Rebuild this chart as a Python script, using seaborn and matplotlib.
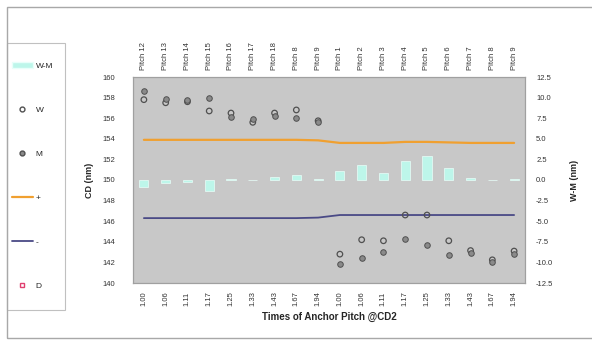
import matplotlib
matplotlib.use("Agg")
import matplotlib.pyplot as plt
from matplotlib.lines import Line2D
from matplotlib.patches import Patch, Rectangle
import numpy as np
import pandas as pd
import seaborn as sns

# ---- data -------------------------------------------------------------
pitch_labels = ["Pitch 12", "Pitch 13", "Pitch 14", "Pitch 15", "Pitch 16",
                "Pitch 17", "Pitch 18", "Pitch 8", "Pitch 9", "Pitch 1",
                "Pitch 2", "Pitch 3", "Pitch 4", "Pitch 5", "Pitch 6",
                "Pitch 7", "Pitch 8", "Pitch 9"]
time_labels = ["1.00", "1.06", "1.11", "1.17", "1.25", "1.33", "1.43", "1.67",
               "1.94", "1.00", "1.06", "1.11", "1.17", "1.25", "1.33", "1.43",
               "1.67", "1.94"]
w_cd = [157.8, 157.5, 157.6, 156.7, 156.5, 155.6, 156.5, 156.8, 155.75,
        142.8, 144.2, 144.1, 146.6, 146.6, 144.1, 143.15, 142.25, 143.1]
m_cd = [158.6, 157.9, 157.8, 158.0, 156.1, 155.9, 156.2, 156.0, 155.65,
        141.8, 142.4, 143.0, 144.3, 143.7, 142.7, 142.95, 142.05, 142.85]
w_minus_m = [-0.8, -0.4, -0.2, -1.3, 0.1, 0.05, 0.4, 0.6, 0.1,
             1.1, 1.8, 0.9, 2.3, 2.9, 1.4, 0.3, 0.05, 0.1]
upper_limit = [153.9, 153.9, 153.9, 153.9, 153.9, 153.9, 153.9, 153.9, 153.85,
               153.6, 153.6, 153.6, 153.7, 153.7, 153.65, 153.6, 153.6, 153.6]
lower_limit = [146.3, 146.3, 146.3, 146.3, 146.3, 146.3, 146.3, 146.3, 146.35,
               146.6, 146.6, 146.6, 146.6, 146.6, 146.6, 146.6, 146.6, 146.6]

df = pd.DataFrame({
    "pos": np.arange(len(time_labels)),
    "W": w_cd, "M": m_cd, "WM": w_minus_m,
    "upper": upper_limit, "lower": lower_limit,
})

# ---- style ------------------------------------------------------------
sns.set_theme(style="white")
plt.rcParams["font.family"] = ["Liberation Sans", "DejaVu Sans"]

bg = "#c8c8c8"
bar_color = "#bdf6ea"
orange = "#f0a030"
navy = "#4a4a86"
pt_edge = "#505050"

fig = plt.figure(figsize=(5.92, 3.44), dpi=100)
fig.patch.set_facecolor("white")

W, H = 592, 344
left, right, top, bottom = 133, 525, 77, 283
ax_wm = fig.add_axes([left / W, 1 - bottom / H, (right - left) / W, (bottom - top) / H])
ax_wm.set_facecolor(bg)

# W-M bars (right-hand scale)
sns.barplot(data=df, x="pos", y="WM", color=bar_color, width=0.42,
            edgecolor="#e8fffa", linewidth=0.5, ax=ax_wm, saturation=1)
ax_wm.set_ylim(-12.5, 12.5)
ax_wm.set_xlim(-0.5, len(time_labels) - 0.5)
ax_wm.set_xticks(df["pos"])
ax_wm.set_xticklabels(time_labels, rotation=90, fontsize=5.5)
ax_wm.set_xlabel("Times of Anchor Pitch @CD2", fontsize=7, fontweight="bold", labelpad=4)

# CD series (left-hand scale), drawn above the bars
ax_cd = ax_wm.twinx()
ax_cd.yaxis.tick_left()
ax_cd.yaxis.set_label_position("left")
ax_wm.yaxis.tick_right()
ax_wm.yaxis.set_label_position("right")
wm_ticks = np.arange(-12.5, 12.51, 2.5)
ax_wm.set_yticks(wm_ticks)
ax_wm.set_yticklabels([f"{v:.1f}" for v in wm_ticks])
ax_wm.set_ylabel("W-M (nm)", fontsize=6.5, fontweight="bold", labelpad=12)

sns.lineplot(data=df, x="pos", y="upper", color=orange, linewidth=1.6, ax=ax_cd)
sns.lineplot(data=df, x="pos", y="lower", color=navy, linewidth=1.3, ax=ax_cd)
sns.scatterplot(data=df, x="pos", y="W", marker="o", s=16, facecolor="none",
                edgecolor=pt_edge, linewidth=0.9, ax=ax_cd, zorder=5)
sns.scatterplot(data=df, x="pos", y="M", marker="o", s=16, color="#8a8a8a",
                edgecolor=pt_edge, linewidth=0.7, ax=ax_cd, zorder=5)
ax_cd.set_ylim(140, 160)
ax_cd.set_yticks(np.arange(140, 160.1, 2))
ax_cd.set_yticklabels([f"{v:d}" for v in range(140, 161, 2)])
ax_cd.set_ylabel("CD (nm)", fontsize=6.5, fontweight="bold", labelpad=6)
ax_cd.set_xlabel("")
ax_cd.set_xlim(-0.5, len(time_labels) - 0.5)

# pitch names along the top
top_ax = ax_cd.secondary_xaxis("top")
top_ax.set_xticks(df["pos"])
top_ax.set_xticklabels(pitch_labels, rotation=90, fontsize=5.5)
top_ax.tick_params(length=0, pad=5, colors="#333333")
for s in top_ax.spines.values():
    s.set_visible(False)

for a in (ax_wm, ax_cd):
    a.tick_params(axis="both", length=0, labelsize=5.5, colors="#333333", pad=5)
    for s in a.spines.values():
        s.set_color("#a0a0a0")
        s.set_linewidth(0.8)
ax_wm.tick_params(axis="x", pad=6)
ax_wm.tick_params(axis="y", pad=8)
ax_cd.tick_params(axis="y", pad=13)

# legend on the left, inside its own box
handles = [
    Patch(facecolor=bar_color, edgecolor="#e8fffa"),
    Line2D([], [], linestyle="none", marker="o", markersize=3.5,
           markerfacecolor="none", markeredgecolor=pt_edge),
    Line2D([], [], linestyle="none", marker="o", markersize=3.5,
           markerfacecolor="#8a8a8a", markeredgecolor=pt_edge),
    Line2D([], [], color=orange, linewidth=1.6),
    Line2D([], [], color=navy, linewidth=1.3),
    Line2D([], [], linestyle="none", marker="s", markersize=3.5,
           markerfacecolor="none", markeredgecolor="#e04070"),
]
labels = ["W-M", "W", "M", "+", "-", "D"]
leg = fig.legend(handles, labels, loc="upper left",
                 bbox_to_anchor=(10 / W, 1 - 60 / H), fontsize=6,
                 labelspacing=4.35, handlelength=2.5, handletextpad=0.4,
                 borderpad=0.2, borderaxespad=0, frameon=False)
fig.add_artist(Rectangle((7 / W, 1 - 310 / H), 58 / W, 267 / H,
                         transform=fig.transFigure, fill=False,
                         edgecolor="#c0c0c0", linewidth=0.8))

# chart-area frame
fig.add_artist(Rectangle((7 / W, 6 / H), 1.2, 1 - 13 / H, transform=fig.transFigure,
                         fill=False, edgecolor="#a8a8a8", linewidth=1.0))

fig.savefig("out.png", dpi=100, facecolor="white")
